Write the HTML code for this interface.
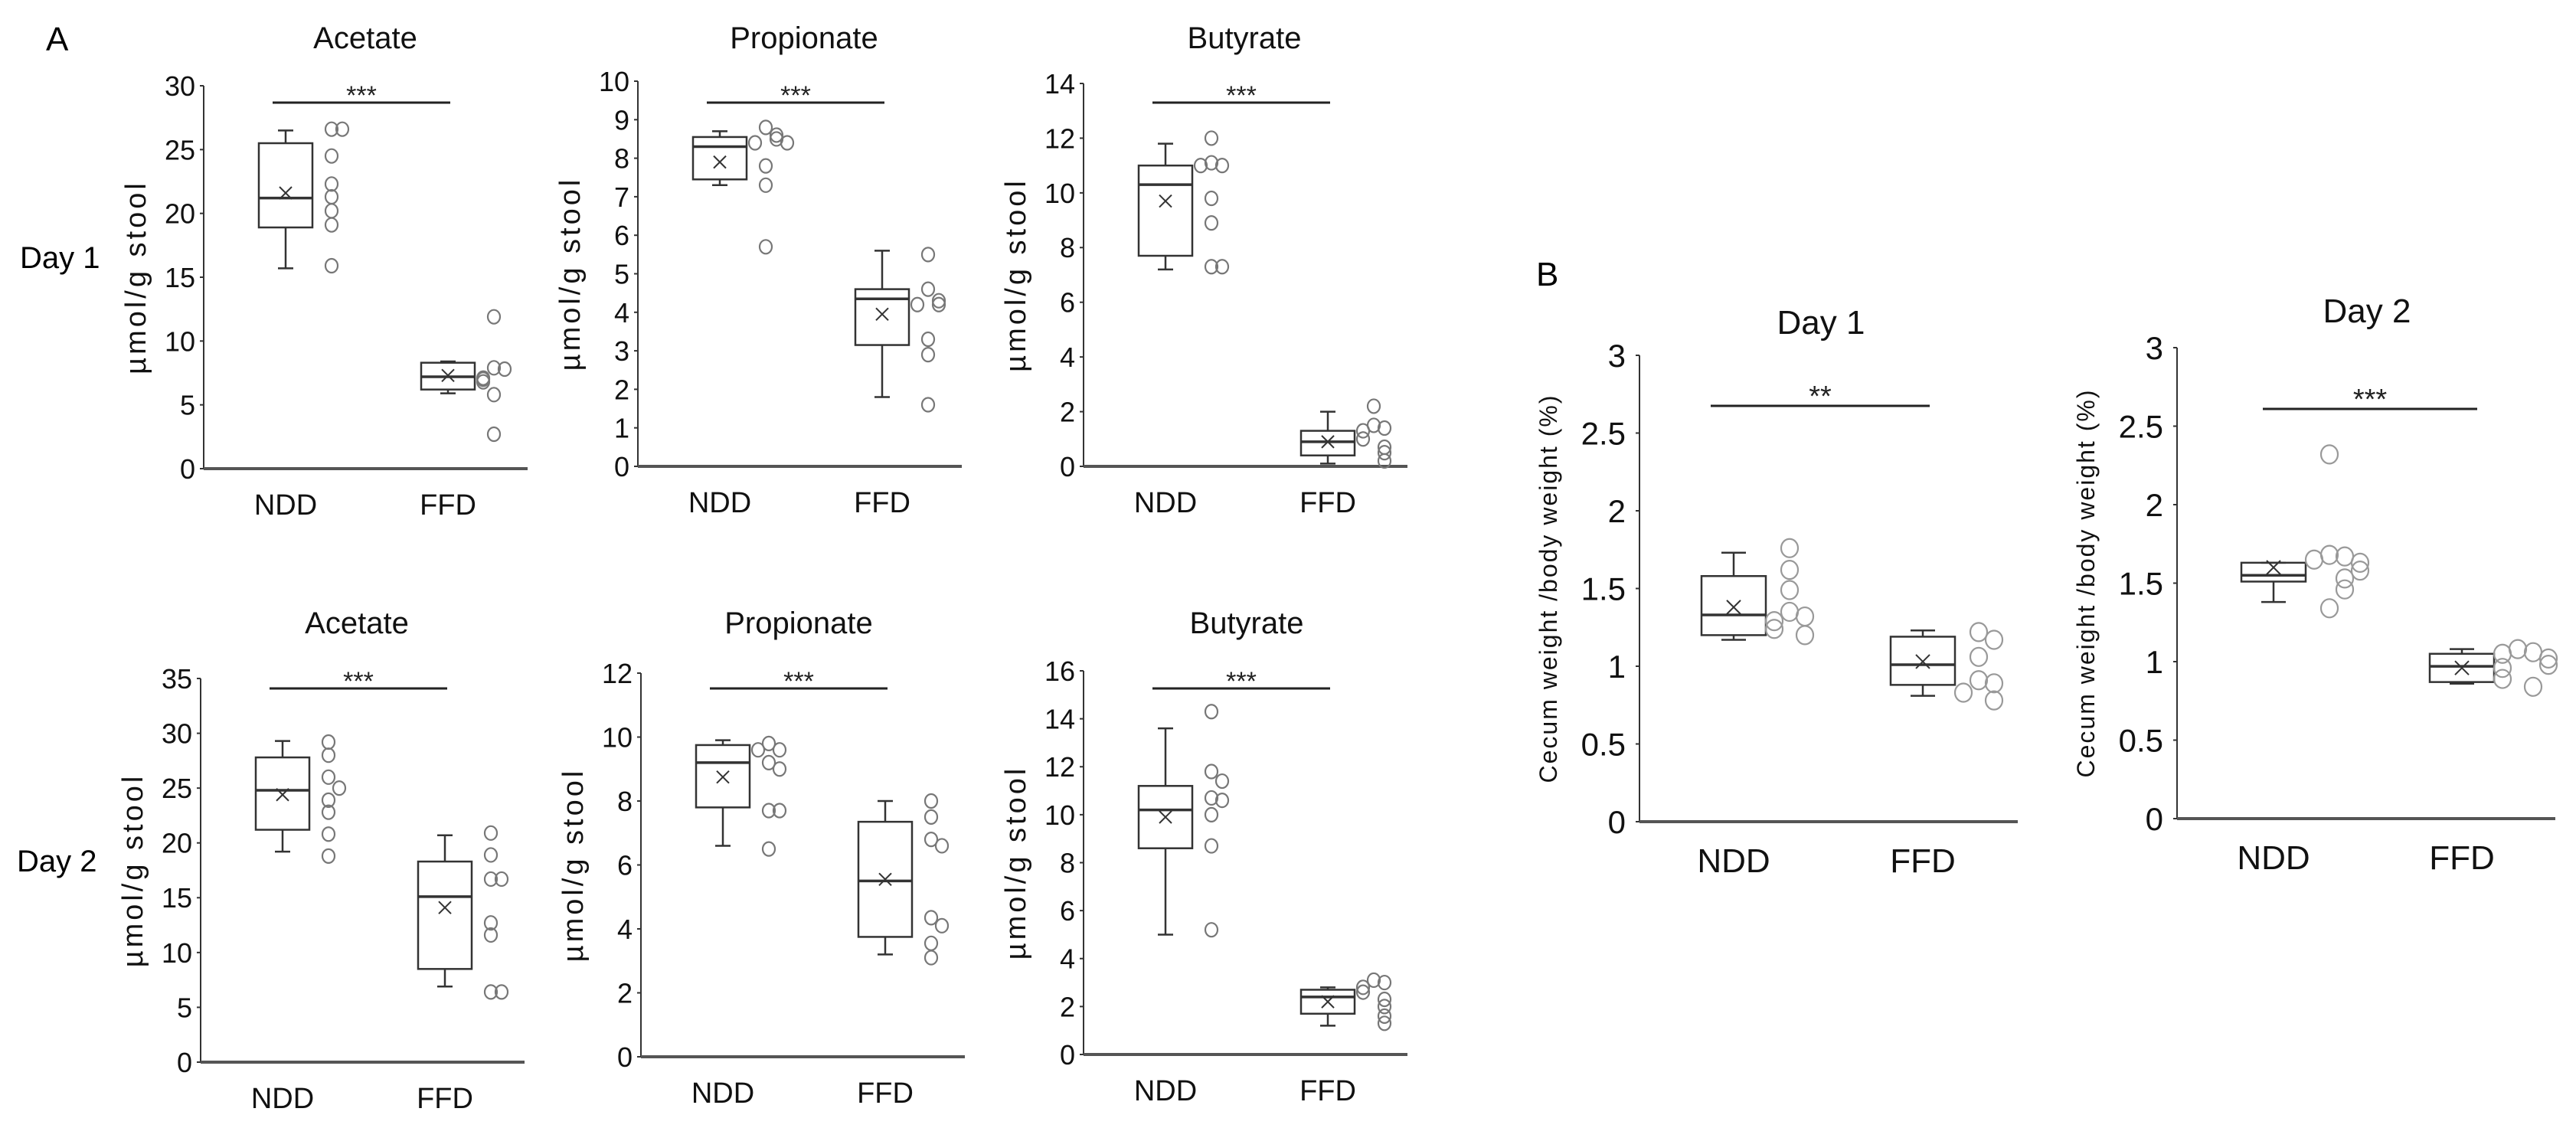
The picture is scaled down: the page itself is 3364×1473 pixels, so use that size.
<!DOCTYPE html>
<html><head><meta charset="utf-8">
<style>
html,body{margin:0;padding:0;background:#fff;}
svg{display:block;font-family:"Liberation Sans",Arial,sans-serif;}
</style></head>
<body>
<svg id="fig" width="3364" height="1473" viewBox="0 0 3364 1473" xmlns="http://www.w3.org/2000/svg">
<text x="60" y="66" font-size="44">A</text>
<text x="2006" y="373" font-size="44">B</text>
<text x="26" y="350" font-size="40">Day 1</text>
<text x="22" y="1138" font-size="40">Day 2</text>
</svg>
<script>
// ---- data ----
const categories = ["NDD", "FFD"];
// stats: [whiskerLow, q1, median, q3, whiskerHigh, mean]
const acetateD1Stats = [[15.7, 18.9, 21.2, 25.5, 26.5, 21.6], [5.9, 6.2, 7.2, 8.3, 8.4, 7.3]];
const acetateD1Points = [[26.6, 26.6, 24.5, 22.3, 21.3, 20.2, 19.1, 15.9], [11.9, 7.9, 7.8, 7.1, 7.0, 6.8, 5.8, 2.7]];
const propionateD1Stats = [[7.3, 7.45, 8.3, 8.55, 8.7, 7.9], [1.8, 3.15, 4.35, 4.6, 5.6, 3.95]];
const propionateD1Points = [[8.8, 8.6, 8.5, 8.4, 8.4, 7.8, 7.3, 5.7], [5.5, 4.6, 4.3, 4.2, 4.2, 3.3, 2.9, 1.6]];
const butyrateD1Stats = [[7.2, 7.7, 10.3, 11.0, 11.8, 9.7], [0.1, 0.4, 0.9, 1.3, 2.0, 0.9]];
const butyrateD1Points = [[12.0, 11.1, 11.0, 11.0, 9.8, 8.9, 7.3, 7.3], [2.2, 1.5, 1.4, 1.3, 1.0, 0.7, 0.5, 0.2]];
const acetateD2Stats = [[19.2, 21.2, 24.8, 27.8, 29.3, 24.4], [6.9, 8.5, 15.1, 18.3, 20.7, 14.1]];
const acetateD2Points = [[29.2, 28.0, 26.0, 25.0, 23.9, 22.8, 20.8, 18.8], [20.9, 18.9, 16.7, 16.7, 12.7, 11.6, 6.4, 6.4]];
const propionateD2Stats = [[6.6, 7.8, 9.2, 9.75, 9.9, 8.75], [3.2, 3.75, 5.5, 7.35, 8.0, 5.55]];
const propionateD2Points = [[9.8, 9.6, 9.6, 9.2, 9.0, 7.7, 7.7, 6.5], [8.0, 7.5, 6.8, 6.6, 4.35, 4.1, 3.55, 3.1]];
const butyrateD2Stats = [[5.0, 8.6, 10.2, 11.2, 13.6, 9.9], [1.2, 1.7, 2.4, 2.7, 2.8, 2.2]];
const butyrateD2Points = [[14.3, 11.8, 11.4, 10.7, 10.6, 10.0, 8.7, 5.2], [3.1, 3.0, 2.8, 2.6, 2.3, 2.0, 1.6, 1.3]];
const cecumD1Stats = [[1.17, 1.2, 1.33, 1.58, 1.73, 1.38], [0.81, 0.88, 1.01, 1.19, 1.23, 1.03]];
const cecumD1Points = [[1.76, 1.62, 1.49, 1.35, 1.32, 1.29, 1.24, 1.2], [1.22, 1.17, 1.06, 0.91, 0.89, 0.83, 0.78]];
const cecumD2Stats = [[1.38, 1.51, 1.55, 1.63, 1.63, 1.6], [0.86, 0.87, 0.97, 1.05, 1.08, 0.96]];
const cecumD2Points = [[2.32, 1.68, 1.67, 1.65, 1.63, 1.58, 1.53, 1.46, 1.34], [1.08, 1.06, 1.05, 1.02, 0.98, 0.96, 0.89, 0.84]];
const ticksAc1 = [0, 5, 10, 15, 20, 25, 30];
const ticksPr1 = [0, 1, 2, 3, 4, 5, 6, 7, 8, 9, 10];
const ticksBu1 = [0, 2, 4, 6, 8, 10, 12, 14];
const ticksAc2 = [0, 5, 10, 15, 20, 25, 30, 35];
const ticksPr2 = [0, 2, 4, 6, 8, 10, 12];
const ticksBu2 = [0, 2, 4, 6, 8, 10, 12, 14, 16];
const ticksCec = [0, 0.5, 1, 1.5, 2, 2.5, 3];

const NS = "http://www.w3.org/2000/svg";
const svg = document.getElementById("fig");
function mk(tag, attrs, parent) {
  const e = document.createElementNS(NS, tag);
  for (const k in attrs) e.setAttribute(k, attrs[k]);
  (parent || svg).appendChild(e);
  return e;
}

function panel(p) {
  const g = mk("g", {});
  
  
  const ymax = p.ticks[p.ticks.length - 1];
  const y = v => p.y0 - (v / ymax) * (p.y0 - p.yTop);
  const xc = i => p.ax + (i === 0 ? p.c1 : p.c2);
  const t = mk("text", {x: p.titleX, y: p.titleY, "font-size": p.titleFs, "text-anchor": "middle", fill: "#111"}, g);
  t.textContent = p.title;
  
  
  const ya = mk("line", {x1: p.ax, y1: p.yTop, x2: p.ax, y2: p.y0, stroke: "#333", "stroke-width": 2}, g);
  
  
  p.ticks.forEach(v => {
    mk("line", {x1: p.ax - 5, y1: y(v), x2: p.ax, y2: y(v), stroke: "#333", "stroke-width": 2}, g);
    const tl = mk("text", {x: p.ax - p.tickGap, y: y(v) + p.tickFs * 0.36, "font-size": p.tickFs, "text-anchor": "end", fill: "#111"}, g);
    tl.textContent = String(v);
    
    
  });
  const xa = mk("line", {x1: p.ax, y1: p.y0, x2: p.ax + p.xLen, y2: p.y0, stroke: "#555", "stroke-width": 4}, g);
  
  
  const ymid = (p.yTop + p.y0) / 2;
  const yl = mk("text", {x: 0, y: 0, "font-size": p.ylFs, "text-anchor": "middle", fill: "#111", "letter-spacing": p.ylLs,
    transform: "translate(" + (p.ax - p.ylOff) + "," + ymid + ") rotate(-90)"}, g);
  yl.textContent = p.ylabel;
  
  
  categories.forEach((c, i) => {
    const cl = mk("text", {x: xc(i), y: p.y0 + p.catDy, "font-size": p.catFs, "text-anchor": "middle", fill: "#111"}, g);
    cl.textContent = c;
    
    
  });
  const sl = mk("line", {x1: p.ax + p.sig1, y1: p.sigY, x2: p.ax + p.sig2, y2: p.sigY, stroke: "#222", "stroke-width": 3}, g);
  
  
  const st = mk("text", {x: p.ax + (p.sig1 + p.sig2) / 2, y: p.sigY - p.starDy, "font-size": p.starFs, "text-anchor": "middle", fill: "#222"}, g);
  st.textContent = p.stars;
  
  
  p.stats.forEach((s, i) => {
    const cx = xc(i), hw = p.bw / 2;
    const bg = mk("g", {stroke: "#333", "stroke-width": 2.5, fill: "none"}, g);
    
    
    mk("line", {x1: cx, y1: y(s[0]), x2: cx, y2: y(s[1])}, bg);
    mk("line", {x1: cx, y1: y(s[3]), x2: cx, y2: y(s[4])}, bg);
    mk("line", {x1: cx - p.cap, y1: y(s[0]), x2: cx + p.cap, y2: y(s[0])}, bg);
    mk("line", {x1: cx - p.cap, y1: y(s[4]), x2: cx + p.cap, y2: y(s[4])}, bg);
    mk("rect", {x: cx - hw, y: y(s[3]), width: p.bw, height: y(s[1]) - y(s[3])}, bg);
    mk("line", {x1: cx - hw, y1: y(s[2]), x2: cx + hw, y2: y(s[2]), "stroke-width": 3.5}, bg);
    const m = p.mk;
    mk("path", {d: "M" + (cx - m) + "," + (y(s[5]) - m) + "L" + (cx + m) + "," + (y(s[5]) + m) + "M" + (cx + m) + "," + (y(s[5]) - m) + "L" + (cx - m) + "," + (y(s[5]) + m), "stroke-width": 2}, bg);
  });
  p.points.forEach((arr, i) => {
    const base = xc(i) + p.ptOff;
    arr.forEach((v, j) => {
      let dup = 0;
      for (let k = 0; k < j; k++) if (Math.abs(arr[k] - v) / ymax < 0.03) dup++;
      const off = dup === 0 ? 0 : (dup % 2 ? 1 : -1) * Math.ceil(dup / 2) * p.jit;
      const c = mk("ellipse", {cx: base + off, cy: y(v), rx: p.rx, ry: p.ry, fill: "none", stroke: p.ptCol, "stroke-width": 2.2}, g);
      
      
    });
  });
}

const A = {c1: 107, c2: 319, xLen: 423, bw: 70, cap: 10, tickFs: 36, tickGap: 11, ylFs: 38, ylLs: 4, ylOff: 76, catFs: 38, catDy: 60,
  sig1: 90, sig2: 322, starFs: 34, starDy: -2, titleFs: 40, ptOff: 60, jit: 14, rx: 8, ry: 9, ptCol: "#777", mk: 8, stars: "***", ylabel: "µmol/g stool"};
function pa(o) { panel(Object.assign({}, A, o)); }
pa({name: "acetate-day1", title: "Acetate", titleX: 477, titleY: 63, ax: 266, yTop: 112, y0: 612, sigY: 134, ticks: ticksAc1, stats: acetateD1Stats, points: acetateD1Points});
pa({name: "propionate-day1", title: "Propionate", titleX: 1050, titleY: 63, ax: 833, yTop: 106, y0: 609, sigY: 134, ticks: ticksPr1, stats: propionateD1Stats, points: propionateD1Points});
pa({name: "butyrate-day1", title: "Butyrate", titleX: 1625, titleY: 63, ax: 1415, yTop: 109, y0: 609, sigY: 134, ticks: ticksBu1, stats: butyrateD1Stats, points: butyrateD1Points});
pa({name: "acetate-day2", title: "Acetate", titleX: 466, titleY: 827, ax: 262, yTop: 886, y0: 1387, sigY: 899, ticks: ticksAc2, stats: acetateD2Stats, points: acetateD2Points});
pa({name: "propionate-day2", title: "Propionate", titleX: 1043, titleY: 827, ax: 837, yTop: 879, y0: 1380, sigY: 899, ticks: ticksPr2, stats: propionateD2Stats, points: propionateD2Points});
pa({name: "butyrate-day2", title: "Butyrate", titleX: 1628, titleY: 827, ax: 1415, yTop: 876, y0: 1377, sigY: 899, ticks: ticksBu2, stats: butyrateD2Stats, points: butyrateD2Points});

const B = {xLen: 494, bw: 84, cap: 16, tickFs: 42, tickGap: 18, ylFs: 32, ylLs: 2, ylOff: 108, catFs: 44, catDy: 66,
  starFs: 38, starDy: 0, titleFs: 44, ptOff: 73, jit: 20, rx: 11, ry: 12, ptCol: "#999", mk: 9, ticks: ticksCec,
  ylabel: "Cecum weight /body weight (%)"};
function pb(o) { panel(Object.assign({}, B, o)); }
pb({name: "cecum-day1", title: "Day 1", titleX: 2378, titleY: 436, ax: 2141, yTop: 464, y0: 1073, c1: 123, c2: 370, sigY: 530, sig1: 93, sig2: 379, stars: "**", stats: cecumD1Stats, points: cecumD1Points});
pb({name: "cecum-day2", title: "Day 2", titleX: 3091, titleY: 421, ax: 2843, yTop: 454, y0: 1069, c1: 126, c2: 372, sigY: 534, sig1: 112, sig2: 392, stars: "***", stats: cecumD2Stats, points: cecumD2Points});
</script>
</body></html>
